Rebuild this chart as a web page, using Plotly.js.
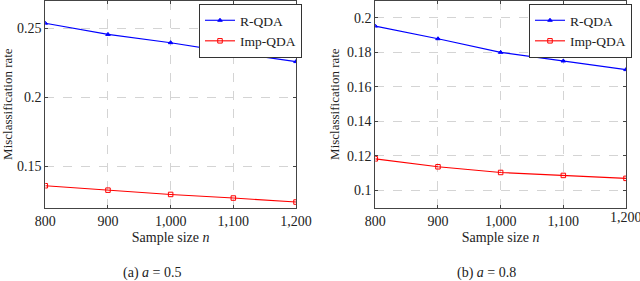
<!DOCTYPE html>
<html>
<head>
<meta charset="utf-8">
<script src="https://cdn.plot.ly/plotly-3.0.1.min.js"></script>
<style>html,body{margin:0;padding:0;background:#fff;}#chart{width:640px;height:281px;}</style>
</head>
<body>
<div id="chart"></div>
<script>
// Data
const sampleSizes = [800, 900, 1000, 1100, 1200];
const xTickText = ["800", "900", "1,000", "1,100", "1,200"];

// Panel (a): a = 0.5
const rqdaA = [0.2536, 0.2455, 0.2395, 0.2323, 0.2258];
const impqdaA = [0.1359, 0.1327, 0.1296, 0.1270, 0.1241];
const yTicksA = [0.15, 0.2, 0.25];
const yTickTextA = ["0.15", "0.2", "0.25"];

// Panel (b): a = 0.8
const rqdaB = [0.1952, 0.1879, 0.1800, 0.1750, 0.1700];
const impqdaB = [0.1183, 0.1137, 0.1104, 0.1087, 0.1070];
const yTicksB = [0.1, 0.12, 0.14, 0.16, 0.18, 0.2];
const yTickTextB = ["0.1", "0.12", "0.14", "0.16", "0.18", "0.2"];

const seriesNames = ["R-QDA", "Imp-QDA"];
const captions = ["(a) <i>a</i> = 0.5", "(b) <i>a</i> = 0.8"];

const FONT = "Liberation Serif";
const BLUE = "#0000ff", RED = "#ff0000";
const TXT = "#222";

function tr(y, name, color, sym, xa, ya, leg) {
  return {
    x: sampleSizes, y: y, name: name, mode: "lines+markers",
    xaxis: xa, yaxis: ya, legend: leg,
    line: {color: color, width: 1.1},
    marker: {color: color, symbol: sym, size: sym.indexOf("square") === 0 ? 4.5 : 4,
             line: {color: color, width: 1}}
  };
}

const data = [
  tr(rqdaA, seriesNames[0], BLUE, "triangle-up", "x", "y", "legend"),
  tr(impqdaA, seriesNames[1], RED, "square-open", "x", "y", "legend"),
  tr(rqdaB, seriesNames[0], BLUE, "triangle-up", "x2", "y2", "legend2"),
  tr(impqdaB, seriesNames[1], RED, "square-open", "x2", "y2", "legend2")
];

function xax(domain, anchor) {
  return {
    domain: domain, anchor: anchor, range: [800, 1200],
    tickvals: sampleSizes, ticktext: xTickText,
    ticks: "inside", ticklen: 3, tickcolor: "#444", mirror: "ticks",
    showline: true, linecolor: "#444", linewidth: 1,
    showgrid: true, gridcolor: "#d4d4d4", griddash: "dash", gridwidth: 1,
    zeroline: false, tickfont: {family: FONT, size: 14, color: TXT},
    title: {text: "Sample size <i>n</i>", font: {family: FONT, size: 14, color: TXT}, standoff: 4}
  };
}
function yax(domain, anchor, range, tv, tt) {
  return {
    domain: domain, anchor: anchor, range: range,
    tickvals: tv, ticktext: tt,
    ticks: "inside", ticklen: 3, tickcolor: "#444", mirror: "ticks",
    showline: true, linecolor: "#444", linewidth: 1,
    showgrid: true, gridcolor: "#d4d4d4", griddash: "dash", gridwidth: 1,
    zeroline: false, tickfont: {family: FONT, size: 14, color: TXT},
    title: {text: "Misclassification rate", font: {family: FONT, size: 13, color: TXT}, standoff: 4}
  };
}

const yDom = [1 - 207.7 / 281, 0.998];
const legBase = {
  bgcolor: "#fff", bordercolor: "#333", borderwidth: 1,
  font: {family: FONT, size: 13.5, color: TXT},
  xanchor: "left", yanchor: "top", tracegroupgap: 0, itemwidth: 30
};

const layout = {
  width: 640, height: 281,
  margin: {l: 0, r: 0, t: 0, b: 0},
  font: {family: FONT, color: TXT},
  paper_bgcolor: "#fff", plot_bgcolor: "#fff",
  xaxis: xax([45.3 / 640, 296 / 640], "y"),
  yaxis: yax(yDom, "x", [0.12, 0.27], yTicksA, yTickTextA),
  xaxis2: xax([375.3 / 640, 626 / 640], "y2"),
  yaxis2: yax(yDom, "x2", [0.09, 0.21], yTicksB, yTickTextB),
  legend: Object.assign({x: 199 / 640, y: 1 - 4 / 281}, legBase),
  legend2: Object.assign({x: 529 / 640, y: 1 - 4 / 281}, legBase),
  annotations: [
    {text: captions[0], xref: "paper", yref: "paper", x: 152 / 640, y: 1 - 273 / 281,
     showarrow: false, font: {family: FONT, size: 14, color: TXT}, xanchor: "center", yanchor: "middle"},
    {text: captions[1], xref: "paper", yref: "paper", x: 486 / 640, y: 1 - 273 / 281,
     showarrow: false, font: {family: FONT, size: 14, color: TXT}, xanchor: "center", yanchor: "middle"},
    // last tick label of panel (b), cut by the page edge as in the reference
    {text: xTickText[4], xref: "x2", yref: "paper", x: sampleSizes[4], y: 1 - 217 / 281,
     showarrow: false, font: {family: FONT, size: 14, color: TXT}, xanchor: "center", yanchor: "middle"}
  ]
};

Plotly.newPlot("chart", data, layout, {displayModeBar: false});
</script>
</body>
</html>
